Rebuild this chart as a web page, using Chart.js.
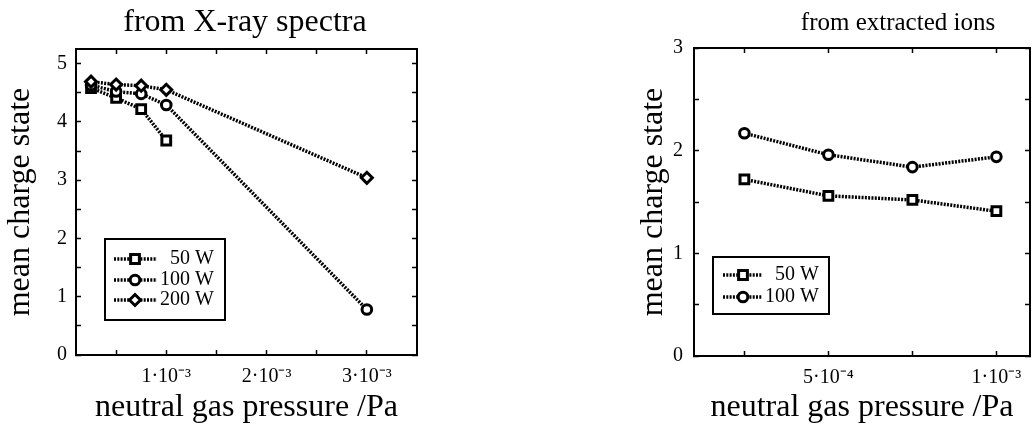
<!DOCTYPE html>
<html><head><meta charset="utf-8">
<script src="https://cdn.jsdelivr.net/npm/chart.js@4/dist/chart.umd.min.js"></script>
<style>
html,body{margin:0;padding:0;background:#fff;width:1032px;height:430px;overflow:hidden;}
#c1{position:absolute;left:0;top:0;}
#c2{position:absolute;left:610px;top:0;}
</style></head><body>
<canvas id="c1" width="500" height="430"></canvas>
<canvas id="c2" width="422" height="430"></canvas>
<script>
// ---- data ----
const seriesLabels = ['50 W', '100 W', '200 W'];
const xrayPressure50 = [0.25e-3, 0.5e-3, 0.75e-3, 1.0e-3];
const xrayCharge50 = [4.58, 4.41, 4.22, 3.68];
const xrayPressure100 = [0.25e-3, 0.5e-3, 0.75e-3, 1.0e-3, 3.0e-3];
const xrayCharge100 = [4.63, 4.52, 4.48, 4.29, 0.78];
const xrayPressure200 = [0.25e-3, 0.5e-3, 0.75e-3, 1.0e-3, 3.0e-3];
const xrayCharge200 = [4.69, 4.64, 4.62, 4.55, 3.04];
const ionPressure = [2.5e-4, 5e-4, 7.5e-4, 1e-3];
const ionCharge50 = [1.72, 1.56, 1.52, 1.41];
const ionCharge100 = [2.17, 1.96, 1.84, 1.94];

const xrayXTicks = [0.5e-3, 1e-3, 1.5e-3, 2e-3, 2.5e-3, 3e-3];
const xrayXTickLabels = ['', '1·10⁻³', '', '2·10⁻³', '', '3·10⁻³'];
const xrayYTicks = [0, 0.5, 1, 1.5, 2, 2.5, 3, 3.5, 4, 4.5, 5];
const xrayYTickLabels = ['0', '', '1', '', '2', '', '3', '', '4', '', '5'];
const ionXTicks = [2.5e-4, 5e-4, 7.5e-4, 1e-3];
const ionXTickLabels = ['', '5·10⁻⁴', '', '1·10⁻³'];
const ionYTicks = [0, 0.5, 1, 1.5, 2, 2.5, 3];
const ionYTickLabels = ['0', '', '1', '', '2', '', '3'];

const chartTitles = ['from X-ray spectra', 'from extracted ions'];
const xAxisTitle = 'neutral gas pressure /Pa';
const yAxisTitle = 'mean charge state';

// ---- styling / helpers ----
const FONT = "'Liberation Serif', 'Times New Roman', serif";
Chart.defaults.font.family = FONT;
Chart.defaults.color = '#000';

function series(label, xs, ys, style, radius, order) {
  return {
    label, order,
    data: xs.map((x, i) => ({x: x, y: ys[i]})),
    borderColor: '#000', borderWidth: 3.5, borderDash: [2, 1.3],
    pointStyle: style, pointRadius: radius, pointBorderWidth: 3,
    pointBackgroundColor: '#fff', pointBorderColor: '#000',
    tension: 0, fill: false, showLine: true
  };
}

function makeScales(o) {
  const grid = {display: true, drawOnChartArea: false, drawTicks: true, tickLength: -5, tickColor: '#000', tickWidth: 1.5};
  const border = {display: true, color: '#000', width: 2};
  const setTicks = vals => scale => { scale.ticks = vals.map(v => ({value: v})); };
  const noPad = s => { s.paddingLeft = 0; s.paddingRight = 0; s.paddingTop = 0; s.paddingBottom = 0; };
  return {
    x: {
      type: 'linear', position: 'bottom', min: o.xMin, max: o.xMax, grid, border,
      afterBuildTicks: setTicks(o.xTicks),
      afterFit: s => { s.height = o.bottomH; noPad(s); },
      ticks: {autoSkip: false, maxRotation: 0, padding: o.xPad, color: '#000', font: {family: FONT, size: 20},
        callback: (v, i) => o.xLabels[i]},
      title: {display: true, text: xAxisTitle, color: '#000', font: {family: FONT, size: 32}, padding: {top: 0, bottom: o.xTitlePad}}
    },
    x2: {
      type: 'linear', position: 'top', min: o.xMin, max: o.xMax, grid, border,
      afterBuildTicks: setTicks(o.xTicks),
      afterFit: s => { s.height = 0; noPad(s); },
      ticks: {display: false}
    },
    y: {
      type: 'linear', position: 'left', min: o.yMin, max: o.yMax, grid, border,
      afterBuildTicks: setTicks(o.yTicks),
      afterFit: s => { s.width = o.leftW; noPad(s); },
      ticks: {autoSkip: false, padding: o.yPad, color: '#000', font: {family: FONT, size: 20},
        callback: (v, i) => o.yLabels[i]},
      title: {display: true, text: yAxisTitle, color: '#000', font: {family: FONT, size: 32}, padding: {top: o.yTitlePad, bottom: 0}}
    },
    y2: {
      type: 'linear', position: 'right', min: o.yMin, max: o.yMax, grid, border,
      afterBuildTicks: setTicks(o.yTicks),
      afterFit: s => { s.width = 0; noPad(s); },
      ticks: {display: false}
    }
  };
}

const decor = {
  id: 'decor',
  afterDraw(chart, args, opts) {
    const ctx = chart.ctx;
    ctx.save();
    ctx.fillStyle = '#000';
    ctx.font = `${opts.titleSize}px ${FONT}`;
    ctx.textAlign = 'center';
    ctx.textBaseline = 'middle';
    ctx.fillText(opts.title, opts.titleX, opts.titleY);
    const [x1, y1, x2, y2] = opts.box;
    ctx.lineWidth = 2;
    ctx.strokeStyle = '#000';
    ctx.strokeRect(x1, y1, x2 - x1, y2 - y1);
    chart.data.datasets.forEach((d, i) => {
      const y = opts.rows[i];
      ctx.strokeStyle = '#000';
      ctx.setLineDash(d.borderDash);
      ctx.lineWidth = d.borderWidth;
      ctx.beginPath();
      ctx.moveTo(opts.lineX[0], y);
      ctx.lineTo(opts.lineX[1], y);
      ctx.stroke();
      ctx.setLineDash([]);
      ctx.lineWidth = d.pointBorderWidth;
      ctx.fillStyle = '#fff';
      Chart.helpers.drawPoint(ctx, {pointStyle: d.pointStyle, radius: d.pointRadius, borderWidth: d.pointBorderWidth, rotation: 0}, opts.markerX, y);
      ctx.fillStyle = '#000';
      ctx.font = `20px ${FONT}`;
      ctx.textAlign = 'right';
      ctx.textBaseline = 'middle';
      ctx.fillText(d.label, opts.textRight, y);
    });
    ctx.restore();
  }
};

new Chart(document.getElementById('c1'), {
  type: 'scatter',
  data: {datasets: [
    series(seriesLabels[0], xrayPressure50, xrayCharge50, 'rect', 6.2, 3),
    series(seriesLabels[1], xrayPressure100, xrayCharge100, 'circle', 4.8, 2),
    series(seriesLabels[2], xrayPressure200, xrayCharge200, 'rectRot', 5.5, 1)
  ]},
  options: {
    responsive: false, animation: false, devicePixelRatio: 1,
    layout: {autoPadding: false, padding: {left: 0, right: 83, top: 49, bottom: 0}},
    scales: makeScales({xMin: 0.1e-3, xMax: 3.5e-3, yMin: 0, yMax: 5.25,
      xTicks: xrayXTicks, xLabels: xrayXTickLabels, yTicks: xrayYTicks, yLabels: xrayYTickLabels,
      bottomH: 75, leftW: 76, xPad: 15, yPad: 14, xTitlePad: 3, yTitlePad: 1}),
    plugins: {
      legend: {display: false}, tooltip: {enabled: false},
      decor: {title: chartTitles[0], titleX: 245, titleY: 23, titleSize: 32,
        box: [105, 239, 225, 320], rows: [259, 280, 300], lineX: [114, 157], markerX: 135, textRight: 214}
    }
  },
  plugins: [decor]
});

new Chart(document.getElementById('c2'), {
  type: 'scatter',
  data: {datasets: [
    series(seriesLabels[0], ionPressure, ionCharge50, 'rect', 6.2, 2),
    series(seriesLabels[1], ionPressure, ionCharge100, 'circle', 4.8, 1)
  ]},
  options: {
    responsive: false, animation: false, devicePixelRatio: 1,
    layout: {autoPadding: false, padding: {left: 0, right: 2, top: 48, bottom: 0}},
    scales: makeScales({xMin: 1e-4, xMax: 1.1e-3, yMin: 0, yMax: 3,
      xTicks: ionXTicks, xLabels: ionXTickLabels, yTicks: ionYTicks, yLabels: ionYTickLabels,
      bottomH: 74, leftW: 84, xPad: 15, yPad: 16, xTitlePad: 3, yTitlePad: 24}),
    plugins: {
      legend: {display: false}, tooltip: {enabled: false},
      decor: {title: chartTitles[1], titleX: 288, titleY: 23, titleSize: 25,
        box: [103, 257, 219, 314], rows: [275, 297], lineX: [113, 152], markerX: 133, textRight: 209}
    }
  },
  plugins: [decor]
});
</script>
</body></html>
